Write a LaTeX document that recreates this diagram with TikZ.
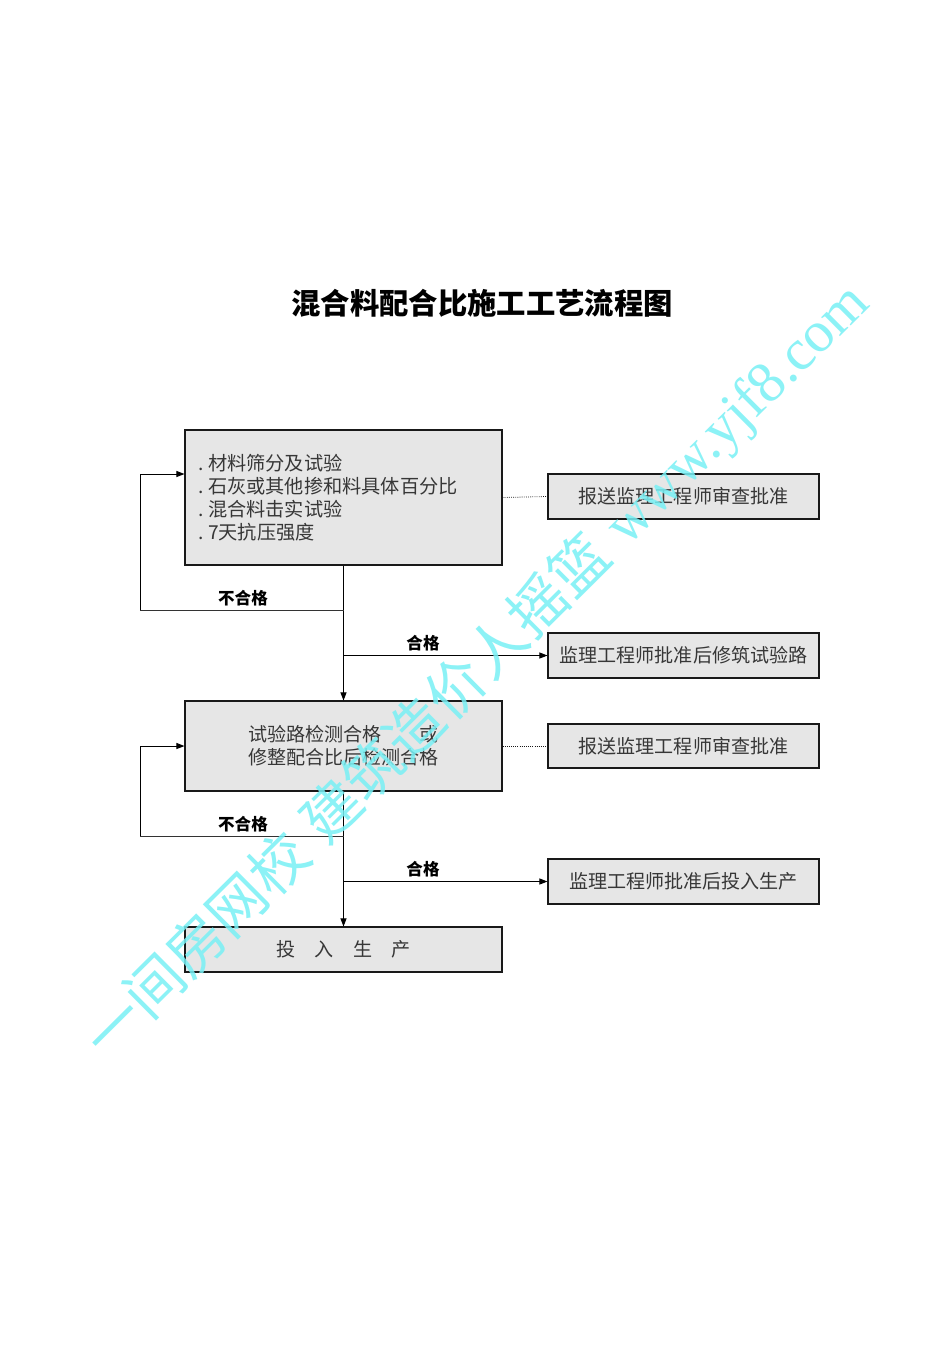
\documentclass[tikz,border=0pt]{standalone}
\usepackage{fontspec}
\setmainfont{Liberation Serif}
\newfontfamily\cjk{Noto Sans CJK SC}
\newfontfamily\wmlat{Liberation Serif}
\usetikzlibrary{arrows.meta}
\definecolor{boxgray}{RGB}{230,230,230}
\definecolor{txtgray}{RGB}{55,55,55}
\definecolor{wmcyan}{RGB}{120,240,245}
\begin{document}
\begin{tikzpicture}[x=0.75pt,y=-0.75pt,
  box/.style={draw=black!90, fill=boxgray, line width=0.8pt, inner sep=0pt,
    text=txtgray, font=\cjk\fontsize{14.3}{17.25}\selectfont},
  arr/.style={draw=black, line width=0.75pt, -{Triangle[length=6pt,width=4.5pt]}},
  ln/.style={draw=black!80, line width=0.75pt},
  dot/.style={draw=black!90, line width=0.6pt, densely dotted},
  lab/.style={font=\cjk\bfseries\fontsize{12.4}{14}\selectfont, text=black}]
\useasboundingbox (0,0) rectangle (950,1345);
\fill[white] (0,0) rectangle (950,1345);

\node[font=\cjk\bfseries\fontsize{22}{26}\selectfont] (title) at (482,303) {混合料配合比施工工艺流程图};

% main boxes
\node[box, minimum width={317*0.75pt}, minimum height={135*0.75pt},
  text width={291*0.75pt}, align=left, font=\cjk\fontsize{14.4}{17.25}\selectfont] (b1) at (343.5,497.5)
  {.\hspace{0.25em}材料筛分及试验\\.\hspace{0.25em}石灰或其他掺和料具体百分比\\.\hspace{0.25em}混合料击实试验\\.\hspace{0.25em}7天抗压强度};
\node[box, minimum width={317*0.75pt}, minimum height={90*0.75pt}, align=left] (b2) at (343.5,746)
  {试验路检测合格　　或\\修整配合比后检测合格};
\node[box, minimum width={317*0.75pt}, minimum height={45*0.75pt}] (b3) at (343.5,949.5)
  {投　入　生　产};

% right boxes
\node[box, minimum width={271*0.75pt}, minimum height={45*0.75pt}] (r1) at (683.5,496.5) {报送监理工程师审查批准};
\node[box, minimum width={271*0.75pt}, minimum height={45*0.75pt}] (r2) at (683.5,655.5) {监理工程师批准后修筑试验路};
\node[box, minimum width={271*0.75pt}, minimum height={44*0.75pt}] (r3) at (683.5,746) {报送监理工程师审查批准};
\node[box, minimum width={271*0.75pt}, minimum height={45*0.75pt}] (r4) at (683.5,881.5) {监理工程师批准后投入生产};

% coordinates
\coordinate (f1) at (b1.south |- 0,610);
\coordinate (c1) at (140,610);
\coordinate (in1) at (b1.west |- 0,474);
\coordinate (j1) at (b1.south |- r2.west);
\coordinate (f2) at (b2.south |- 0,836);
\coordinate (c2) at (140,836);
\coordinate (j2) at (b2.south |- r4.west);

% connectors
\draw[arr] (b1.south) -- (b2.north);
\draw[arr] (b2.south) -- (b3.north);
\draw[arr] (j1) -- (r2.west);
\draw[arr] (j2) -- (r4.west);
\draw[ln] (f1) -- (c1);
\draw[arr] (c1) |- (in1);
\draw[ln] (f2) -- (c2);
\draw[arr] (c2) |- (b2.west);
\draw[dot] (b1.east) -- (r1.west);
\draw[dot] (b2.east) -- (r3.west);

% labels
\node[lab] (n1) at (243,598) {不合格};
\node[lab] (n2) at (243,824) {不合格};
\node[lab] (p1) at (423,643) {合格};
\node[lab] (p2) at (423,869) {合格};

% watermark
\node[text=wmcyan, text opacity=0.85, rotate=44.8, inner sep=0pt] (wm) at (477,671)
  {\cjk\fontsize{43.5}{48}\selectfont 一间房网校\hspace{0.3em}建筑造价人摇篮\hspace{0.3em}\wmlat www.yjf8.com};
\end{tikzpicture}
\end{document}
